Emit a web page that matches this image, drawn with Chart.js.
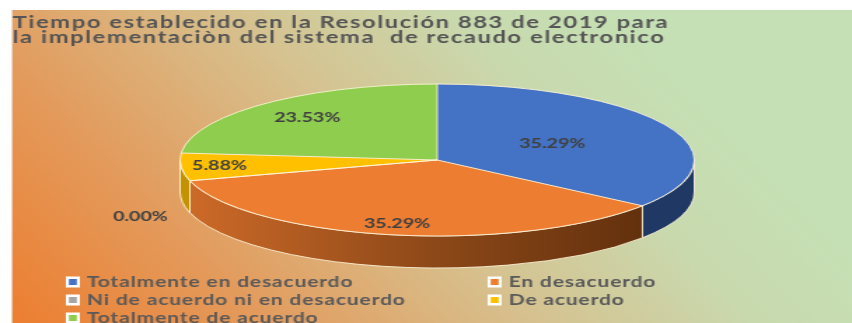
<!DOCTYPE html>
<html>
<head>
<meta charset="utf-8">
<script src="https://cdn.jsdelivr.net/npm/chart.js@4.4.1/dist/chart.umd.min.js"></script>
<style>
html,body{margin:0;padding:0;background:#ffffff;overflow:hidden;}
</style>
</head>
<body>
<canvas id="c" width="608" height="323" style="width:852px;height:323px;display:block;"></canvas>
<script>
// ---- data ----
const titleLines = ['Tiempo establecido en la Resolución 883 de 2019 para', 'la implementaciòn del sistema  de recaudo electronico'];
const categories = ['Totalmente en desacuerdo', 'En desacuerdo', 'Ni de acuerdo ni en desacuerdo', 'De acuerdo', 'Totalmente de acuerdo'];
const percentages = [35.29, 35.29, 0.00, 5.88, 23.53];

// ---- style ----
const sliceColors = ['#4472C4', '#ED7D31', '#A5A5A5', '#FFC000', '#8FCD4F'];
const sideColors = ['#1F3864', 'gradient', '#7F7F7F', '#C39200', '#5E8E2E'];
const labelRadius = [0.5, 0.85, 1.2, 0.85, 0.75];
const PIE = {cx: 312, cy: 160, rx: 183.5, ry: 76, depth: 32};
const FONT = 'Lato';
const EDGE = 'rgba(255,246,220,0.85)';

const bgPlugin = {
  id: 'bg',
  beforeDraw(chart) {
    const {ctx, width, height} = chart;
    ctx.save();
    ctx.fillStyle = '#ffffff';
    ctx.fillRect(0, 0, width, height);
    const g = ctx.createLinearGradient(0, 300, 428, 0);
    g.addColorStop(0, '#EC7F32');
    g.addColorStop(0.28, '#E39C5E');
    g.addColorStop(0.58, '#D6C290');
    g.addColorStop(0.82, '#C9D9AE');
    g.addColorStop(1, '#C5E0B4');
    ctx.fillStyle = g;
    ctx.fillRect(8.6, 10, width - 8.6, height - 10);
    ctx.restore();
    ctx.letterSpacing = '1.1px';   // title spacing
  }
};

function frontIntervals(a0, a1) {
  const out = [];
  for (let k = -1; k <= 1; k++) {
    const lo = k * 2 * Math.PI, hi = lo + Math.PI;
    const s = Math.max(a0, lo), e = Math.min(a1, hi);
    if (e > s + 1e-6) out.push([s, e]);
  }
  return out;
}

const pie3dPlugin = {
  id: 'pie3d',
  beforeDatasetsDraw(chart) {
    const ctx = chart.ctx;
    ctx.letterSpacing = '0px';
    const arcs = chart.getDatasetMeta(0).data;
    const {cx, cy, rx, ry, depth} = PIE;
    // side walls
    ctx.save();
    arcs.forEach((arc, i) => {
      const {startAngle, endAngle} = arc.getProps(['startAngle', 'endAngle'], true);
      if (endAngle - startAngle <= 1e-6) return;
      frontIntervals(startAngle, endAngle).forEach(([s, e]) => {
        ctx.beginPath();
        ctx.ellipse(cx, cy, rx, ry, 0, s, e, false);
        ctx.ellipse(cx, cy + depth, rx, ry, 0, e, s, true);
        ctx.closePath();
        let fill = sideColors[i];
        if (fill === 'gradient') {
          const g = ctx.createLinearGradient(cx - rx, 0, cx + rx, 0);
          g.addColorStop(0, '#CF6B29');
          g.addColorStop(0.5, '#8C4818');
          g.addColorStop(1, '#592B0B');
          fill = g;
        }
        ctx.fillStyle = fill;
        ctx.fill();
        ctx.strokeStyle = EDGE;
        ctx.lineWidth = 1;
        ctx.stroke();
      });
    });
    ctx.restore();
    // top face transform (circle -> ellipse)
    const a0 = arcs[0];
    const R = a0.outerRadius;
    ctx.save();
    ctx.translate(cx, cy);
    ctx.scale(rx / R, ry / R);
    ctx.translate(-a0.x, -a0.y);
  },
  afterDatasetsDraw(chart) {
    const ctx = chart.ctx;
    ctx.restore();
    const arcs = chart.getDatasetMeta(0).data;
    const {cx, cy, rx, ry, depth} = PIE;
    ctx.save();
    ctx.strokeStyle = EDGE;
    ctx.lineWidth = 1;
    ctx.beginPath();
    ctx.ellipse(cx, cy, rx, ry, 0, 0, Math.PI * 2);
    ctx.stroke();
    arcs.forEach((arc) => {
      const a = arc.startAngle;
      ctx.beginPath();
      ctx.moveTo(cx, cy);
      ctx.lineTo(cx + rx * Math.cos(a), cy + ry * Math.sin(a));
      ctx.stroke();
    });
    // data labels
    ctx.font = 'bold 14px ' + FONT;
    ctx.textAlign = 'center';
    ctx.textBaseline = 'middle';
    ctx.fillStyle = '#404040';
    arcs.forEach((arc, i) => {
      const mid = (arc.startAngle + arc.endAngle) / 2;
      const f = labelRadius[i];
      const x = cx + rx * f * Math.cos(mid);
      const y = cy + ry * f * Math.sin(mid) + (f > 1 ? depth : 0);
      ctx.fillText(percentages[i].toFixed(2) + '%', x, y);
    });
    ctx.restore();
  }
};

const legendPlugin = {
  id: 'legend2col',
  afterDraw(chart) {
    const ctx = chart.ctx;
    const colsX = [47, 348];
    const rowY0 = 282, rowH = 18;
    ctx.save();
    ctx.font = 'bold 15px ' + FONT;
    ctx.letterSpacing = '0.6px';
    ctx.textBaseline = 'middle';
    ctx.textAlign = 'left';
    chart.data.labels.forEach((lab, i) => {
      const x = colsX[i % 2];
      const y = rowY0 + Math.floor(i / 2) * rowH;
      ctx.fillStyle = '#FFFFFF';
      ctx.fillRect(x, y - 5.5, 10, 11);
      ctx.fillStyle = chart.data.datasets[0].backgroundColor[i];
      ctx.fillRect(x + 2.2, y - 3, 5.6, 6);
      ctx.fillStyle = '#595959';
      ctx.fillText(lab, x + 15, y + 0.5);
    });
    ctx.restore();
  }
};

new Chart(document.getElementById('c'), {
  type: 'pie',
  data: {
    labels: categories,
    datasets: [{
      data: percentages,
      backgroundColor: sliceColors,
      borderWidth: 0
    }]
  },
  options: {
    responsive: false,
    animation: false,
    devicePixelRatio: 1,
    events: [],
    layout: {padding: {left: 9, right: 0, top: 0, bottom: 60}},
    plugins: {
      legend: {display: false},
      tooltip: {enabled: false},
      title: {
        display: true,
        text: titleLines,
        align: 'start',
        color: '#555555',
        font: {family: FONT, weight: 'bold', size: 17, lineHeight: '15px'},
        padding: {top: 15.5, bottom: 10}
      }
    }
  },
  plugins: [bgPlugin, pie3dPlugin, legendPlugin]
});
</script>
</body>
</html>
